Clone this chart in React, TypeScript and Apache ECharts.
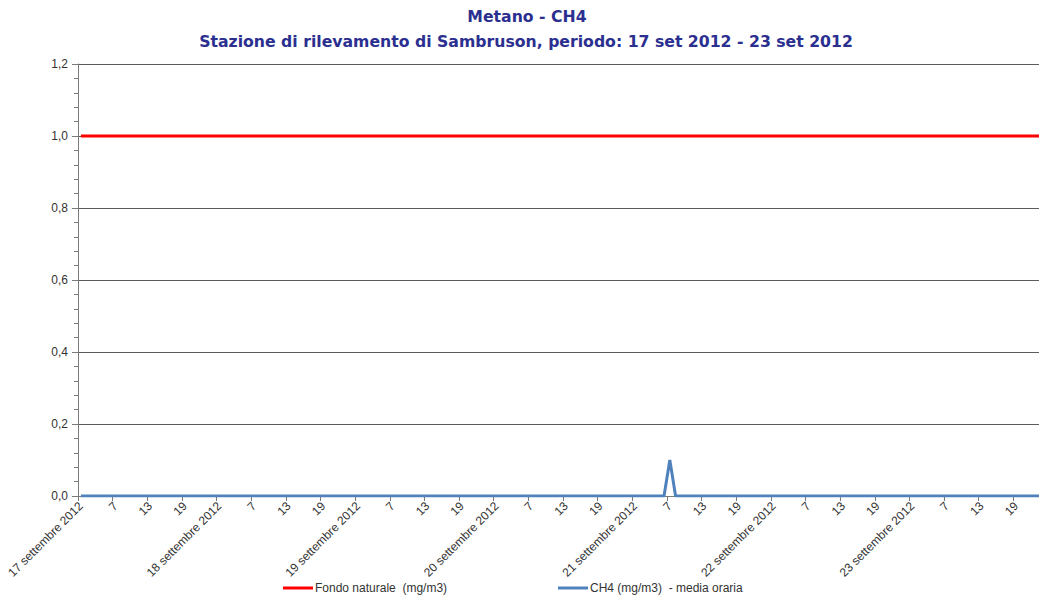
import React, { useEffect, useRef } from "react";
import * as echarts from "echarts";

const titleLine1 = "Metano - CH4";
const titleLine2 = "Stazione di rilevamento di Sambruson, periodo: 17 set 2012 - 23 set 2012";

const dayLabels = [
  "17 settembre 2012",
  "18 settembre 2012",
  "19 settembre 2012",
  "20 settembre 2012",
  "21 settembre 2012",
  "22 settembre 2012",
  "23 settembre 2012",
];
const hours = [1, 2, 3, 4, 5, 6, 7, 8, 9, 10, 11, 12, 13, 14, 15, 16, 17, 18, 19, 20, 21, 22, 23, 24];

// CH4 hourly averages (mg/m3), one row per day, hours 1..24
const ch4Day17 = [0, 0, 0, 0, 0, 0, 0, 0, 0, 0, 0, 0, 0, 0, 0, 0, 0, 0, 0, 0, 0, 0, 0, 0];
const ch4Day18 = [0, 0, 0, 0, 0, 0, 0, 0, 0, 0, 0, 0, 0, 0, 0, 0, 0, 0, 0, 0, 0, 0, 0, 0];
const ch4Day19 = [0, 0, 0, 0, 0, 0, 0, 0, 0, 0, 0, 0, 0, 0, 0, 0, 0, 0, 0, 0, 0, 0, 0, 0];
const ch4Day20 = [0, 0, 0, 0, 0, 0, 0, 0, 0, 0, 0, 0, 0, 0, 0, 0, 0, 0, 0, 0, 0, 0, 0, 0];
const ch4Day21 = [0, 0, 0, 0, 0, 0, 0.1, 0, 0, 0, 0, 0, 0, 0, 0, 0, 0, 0, 0, 0, 0, 0, 0, 0];
const ch4Day22 = [0, 0, 0, 0, 0, 0, 0, 0, 0, 0, 0, 0, 0, 0, 0, 0, 0, 0, 0, 0, 0, 0, 0, 0];
const ch4Day23 = [0, 0, 0, 0, 0, 0, 0, 0, 0, 0, 0, 0, 0, 0, 0, 0, 0, 0, 0, 0, 0, 0, 0, 0];

const fondoNaturale = 1.0;

const seriesFondo = "Fondo naturale  (mg/m3)";
const seriesCh4 = "CH4 (mg/m3)  - media oraria";

export default function App() {
  const ref = useRef<HTMLDivElement>(null);

  useEffect(() => {
    if (!ref.current) return;
    const chart = echarts.init(ref.current, undefined, { renderer: "svg" });

    const categories: string[] = [];
    dayLabels.forEach((d) => {
      hours.forEach((h) => {
        categories.push(h === 1 ? d : String(h));
      });
    });
    const ch4 = [
      ...ch4Day17,
      ...ch4Day18,
      ...ch4Day19,
      ...ch4Day20,
      ...ch4Day21,
      ...ch4Day22,
      ...ch4Day23,
    ];
    const fondo = categories.map(() => fondoNaturale);

    const axisGray = "#7a7a7a";
    const textColor = "#333333";
    const font = "Liberation Sans, Arial, sans-serif";
    const titleFont = "bold 15.7px 'DejaVu Sans', sans-serif";

    chart.setOption({
      animation: false,
      backgroundColor: "#ffffff",
      graphic: [
        {
          type: "text",
          x: 527,
          y: 16,
          style: {
            text: titleLine1,
            textAlign: "center",
            textVerticalAlign: "middle",
            fill: "#2b2f8f",
            font: titleFont,
          },
        },
        {
          type: "text",
          x: 526,
          y: 41,
          style: {
            text: titleLine2,
            textAlign: "center",
            textVerticalAlign: "middle",
            fill: "#2b2f8f",
            font: titleFont,
          },
        },
      ],
      legend: [
        {
          left: 283,
          top: 582,
          icon: "rect",
          itemWidth: 30,
          itemHeight: 3,
          itemGap: 0,
          padding: 0,
          textStyle: { color: textColor, fontSize: 12, fontFamily: font, padding: [0, 0, 0, -3] },
          data: [seriesFondo],
        },
        {
          left: 558,
          top: 582,
          icon: "rect",
          itemWidth: 30,
          itemHeight: 3,
          itemGap: 0,
          padding: 0,
          textStyle: { color: textColor, fontSize: 12, fontFamily: font, padding: [0, 0, 0, -3] },
          data: [seriesCh4],
        },
      ],
      grid: {
        left: 78,
        top: 64,
        right: 0,
        bottom: 101,
        containLabel: false,
      },
      xAxis: {
        type: "category",
        data: categories,
        boundaryGap: true,
        axisLine: { show: true, lineStyle: { color: axisGray, width: 1 } },
        axisTick: { show: true, interval: 5, length: 5, lineStyle: { color: axisGray } },
        axisLabel: {
          interval: 5,
          rotate: 45,
          margin: 8,
          color: textColor,
          fontSize: 12,
          fontFamily: font,
        },
        splitLine: { show: false },
      },
      yAxis: {
        type: "value",
        min: 0,
        max: 1.2,
        interval: 0.2,
        axisLine: { show: true, lineStyle: { color: axisGray, width: 1 } },
        axisTick: { show: true, length: 6, lineStyle: { color: axisGray } },
        minorTick: { show: true, splitNumber: 5, length: 4, lineStyle: { color: axisGray } },
        axisLabel: {
          margin: 10,
          color: textColor,
          fontSize: 12,
          fontFamily: font,
          formatter: (v: number) => v.toFixed(1).replace(".", ","),
        },
        splitLine: { show: true, lineStyle: { color: "#5a5a5a", width: 1 } },
      },
      series: [
        {
          name: seriesFondo,
          type: "line",
          data: fondo,
          showSymbol: false,
          symbol: "none",
          lineStyle: { color: "#ff0000", width: 3 },
          itemStyle: { color: "#ff0000" },
          z: 3,
        },
        {
          name: seriesCh4,
          type: "line",
          data: ch4,
          showSymbol: false,
          symbol: "none",
          lineStyle: { color: "#4f81bd", width: 3 },
          itemStyle: { color: "#4f81bd" },
          z: 4,
        },
      ],
    });

    return () => chart.dispose();
  }, []);

  return (
    <div
      style={{
        position: "absolute",
        left: 0,
        top: 0,
        width: 1039,
        height: 597,
        overflow: "hidden",
      }}
    >
      <div ref={ref} style={{ width: 1048, height: 597 }} />
    </div>
  );
}
